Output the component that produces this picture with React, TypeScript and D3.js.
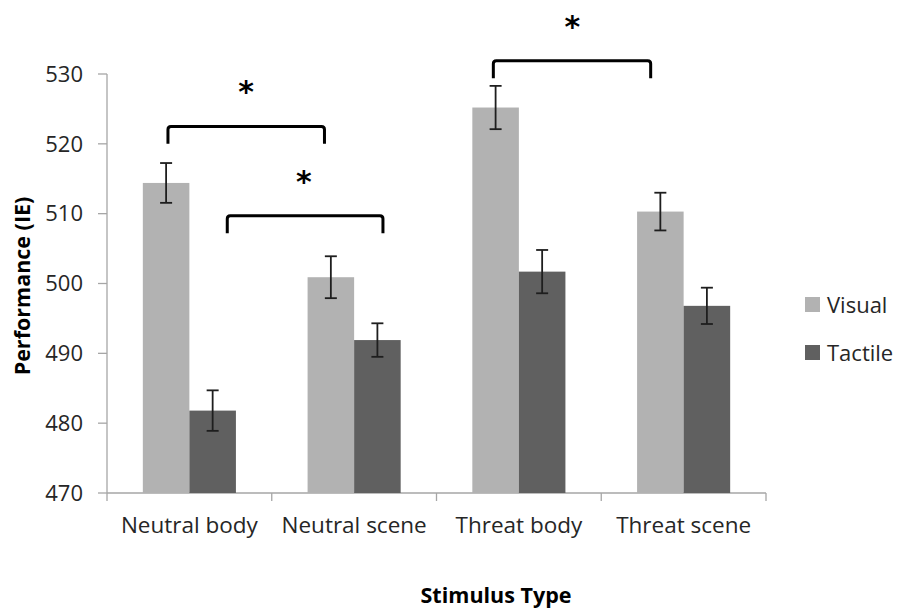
import React, { useEffect, useRef } from "react";
import * as d3 from "d3";

const categories = ["Neutral body", "Neutral scene", "Threat body", "Threat scene"];
const seriesNames = ["Visual", "Tactile"];
const seriesColors = ["#b2b2b2", "#606060"];
const visualMeans = [514.4, 500.9, 525.2, 510.3];
const visualErrors = [2.85, 3.0, 3.1, 2.7];
const tactileMeans = [481.8, 491.9, 501.7, 496.8];
const tactileErrors = [2.9, 2.4, 3.1, 2.6];
const yTicks = [470, 480, 490, 500, 510, 520, 530];

// significance brackets, x in category units (0..4), y in IE units
const bracketFrom = [0.37, 0.73, 2.345];
const bracketTo = [1.32, 1.675, 3.3];
const bracketTop = [522.5, 509.7, 531.9];
const bracketFoot = [520.0, 507.2, 529.4];
const starX = [0.845, 1.195, 2.825];
const starY = [528.4, 515.6, 537.8];

export default function App() {
  const chartRef = useRef<SVGSVGElement>(null);

  useEffect(() => {
    const svg = d3.select(chartRef.current);
    svg.selectAll("*").remove();

    const left = 107;
    const right = 766;
    const top = 74;
    const bottom = 493;
    const font = "'Open Sans', sans-serif";

    const y = d3.scaleLinear().domain([470, 530]).range([bottom, top]);
    const xc = d3.scaleLinear().domain([0, 4]).range([left, right]);
    const x0 = d3
      .scaleBand()
      .domain(categories)
      .range([left, right])
      .paddingInner(0.435)
      .paddingOuter(0.2175);
    const x1 = d3.scaleBand().domain(seriesNames).range([0, x0.bandwidth()]);

    const rows = categories.map((c, i) => ({
      category: c,
      values: [
        { name: "Visual", mean: visualMeans[i], err: visualErrors[i] },
        { name: "Tactile", mean: tactileMeans[i], err: tactileErrors[i] },
      ],
    }));

    // y axis
    const axis = svg.append("g").attr("stroke", "#a6a6a6").attr("stroke-width", 1.3);
    axis.append("line").attr("x1", left).attr("x2", left).attr("y1", top).attr("y2", bottom);
    axis
      .selectAll("line.yt")
      .data(yTicks)
      .enter()
      .append("line")
      .attr("class", "yt")
      .attr("x1", left - 9)
      .attr("x2", left)
      .attr("y1", (d) => y(d))
      .attr("y2", (d) => y(d));

    svg
      .append("g")
      .selectAll("text")
      .data(yTicks)
      .enter()
      .append("text")
      .attr("x", 83)
      .attr("y", (d) => y(d))
      .attr("dy", "0.35em")
      .attr("text-anchor", "end")
      .attr("font-family", font)
      .attr("font-size", 22)
      .attr("fill", "#262626")
      .text((d) => d);

    // bars
    const groups = svg
      .append("g")
      .selectAll("g")
      .data(rows)
      .enter()
      .append("g")
      .attr("transform", (d) => "translate(" + x0(d.category) + ",0)");

    groups
      .selectAll("rect")
      .data((d) => d.values)
      .enter()
      .append("rect")
      .attr("x", (d) => x1(d.name)!)
      .attr("width", x1.bandwidth())
      .attr("y", (d) => y(d.mean))
      .attr("height", (d) => bottom - y(d.mean))
      .attr("fill", (d, i) => seriesColors[i]);

    // error bars
    const eb = groups
      .selectAll("g.err")
      .data((d) => d.values)
      .enter()
      .append("g")
      .attr("class", "err")
      .attr("stroke", "#1e1e1e")
      .attr("stroke-width", 1.8);
    const cx = (d) => x1(d.name)! + x1.bandwidth() / 2;
    eb.append("line")
      .attr("x1", cx)
      .attr("x2", cx)
      .attr("y1", (d) => y(d.mean + d.err))
      .attr("y2", (d) => y(d.mean - d.err));
    eb.append("line")
      .attr("x1", (d) => cx(d) - 6)
      .attr("x2", (d) => cx(d) + 6)
      .attr("y1", (d) => y(d.mean + d.err))
      .attr("y2", (d) => y(d.mean + d.err));
    eb.append("line")
      .attr("x1", (d) => cx(d) - 6)
      .attr("x2", (d) => cx(d) + 6)
      .attr("y1", (d) => y(d.mean - d.err))
      .attr("y2", (d) => y(d.mean - d.err));

    // x axis, ticks at category boundaries
    axis.append("line").attr("x1", left).attr("x2", right).attr("y1", bottom).attr("y2", bottom);
    axis
      .selectAll("line.xt")
      .data(d3.range(5))
      .enter()
      .append("line")
      .attr("class", "xt")
      .attr("x1", (d) => xc(d))
      .attr("x2", (d) => xc(d))
      .attr("y1", bottom)
      .attr("y2", bottom + 8);

    svg
      .append("g")
      .selectAll("text")
      .data(categories)
      .enter()
      .append("text")
      .attr("x", (d) => x0(d)! + x0.bandwidth() / 2)
      .attr("y", 525)
      .attr("dy", "0.35em")
      .attr("text-anchor", "middle")
      .attr("font-family", font)
      .attr("font-size", 22.5)
      .attr("fill", "#262626")
      .text((d) => d);

    // significance brackets
    const r = 3;
    bracketFrom.forEach((f, i) => {
      const xa = xc(f);
      const xb = xc(bracketTo[i]);
      const yt = y(bracketTop[i]);
      const yf = y(bracketFoot[i]);
      const p = d3.path();
      p.moveTo(xa, yf);
      p.lineTo(xa, yt + r);
      p.quadraticCurveTo(xa, yt, xa + r, yt);
      p.lineTo(xb - r, yt);
      p.quadraticCurveTo(xb, yt, xb, yt + r);
      p.lineTo(xb, yf);
      svg
        .append("path")
        .attr("d", p.toString())
        .attr("fill", "none")
        .attr("stroke", "#000")
        .attr("stroke-width", 3);
      svg
        .append("text")
        .attr("x", xc(starX[i]))
        .attr("y", y(starY[i]) + 17)
        .attr("text-anchor", "middle")
        .attr("font-family", "'DejaVu Sans', sans-serif")
        .attr("font-weight", "bold")
        .attr("font-size", 30)
        .attr("fill", "#000")
        .text("*");
    });

    // axis titles
    svg
      .append("text")
      .attr("transform", "translate(22,286) rotate(-90)")
      .attr("dy", "0.35em")
      .attr("text-anchor", "middle")
      .attr("font-family", font)
      .attr("font-weight", "bold")
      .attr("font-size", 21.5)
      .attr("fill", "#000")
      .text("Performance (IE)");

    svg
      .append("text")
      .attr("x", 496)
      .attr("y", 595)
      .attr("dy", "0.35em")
      .attr("text-anchor", "middle")
      .attr("font-family", font)
      .attr("font-weight", "bold")
      .attr("font-size", 21.5)
      .attr("fill", "#000")
      .text("Stimulus Type");

    // legend
    const legend = svg
      .append("g")
      .selectAll("g")
      .data(seriesNames)
      .enter()
      .append("g")
      .attr("transform", (d, i) => "translate(805," + (305 + i * 48) + ")");
    legend
      .append("rect")
      .attr("x", 0)
      .attr("y", -8)
      .attr("width", 15)
      .attr("height", 15)
      .attr("fill", (d, i) => seriesColors[i]);
    legend
      .append("text")
      .attr("x", 22)
      .attr("y", 0)
      .attr("dy", "0.35em")
      .attr("font-family", font)
      .attr("font-size", 22)
      .attr("fill", "#262626")
      .text((d) => d);
  }, []);

  return (
    <svg
      ref={chartRef}
      width="900"
      height="608"
      style={{ position: "absolute", left: 0, top: 0, background: "#fff" }}
    ></svg>
  );
}
